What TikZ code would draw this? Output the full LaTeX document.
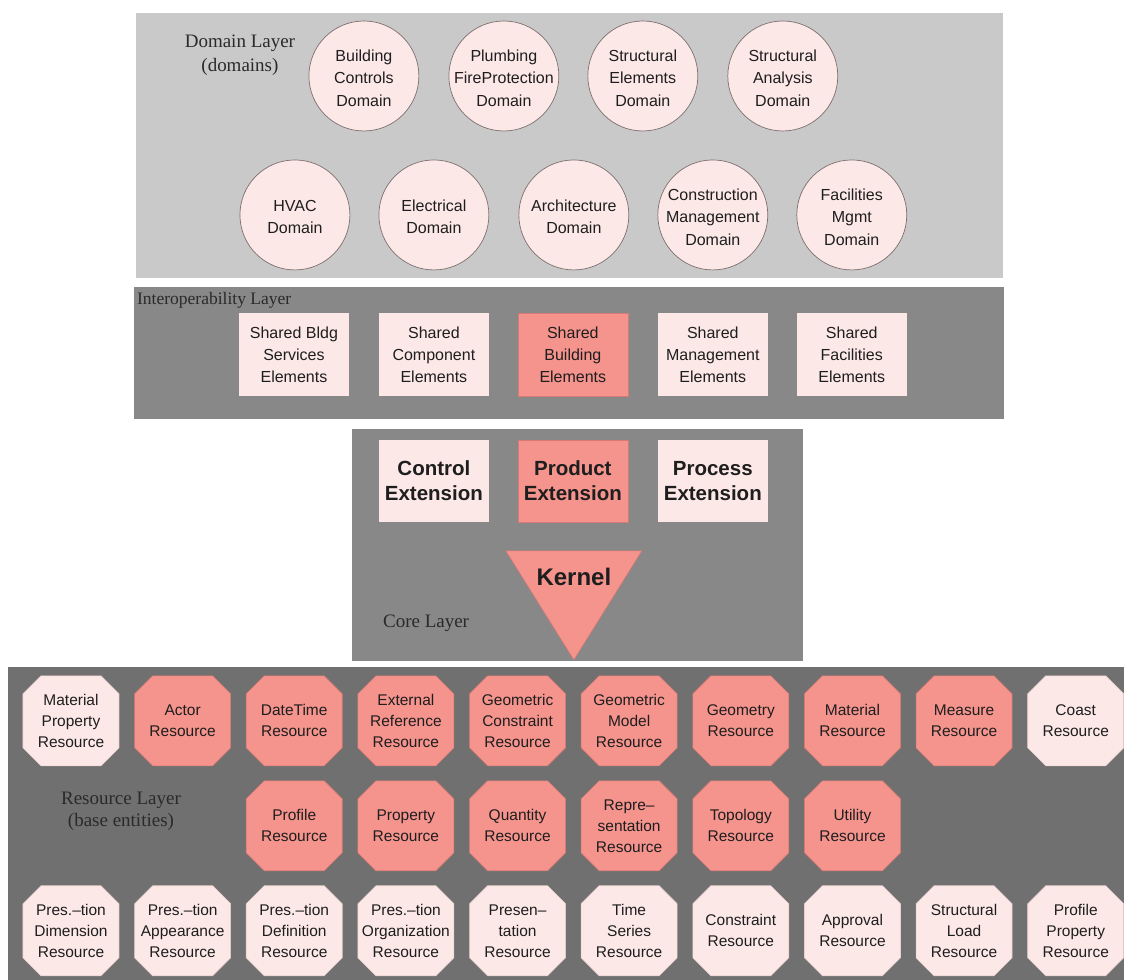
\documentclass[tikz,border=0pt]{standalone}
\usepackage{fontspec}
\setmainfont{Liberation Serif}
\setsansfont{Liberation Sans}

\definecolor{paleframe}{HTML}{C9C9C9}
\definecolor{midframe}{HTML}{888888}
\definecolor{deepframe}{HTML}{707070}
\definecolor{lightpink}{HTML}{FDE8E8}
\definecolor{salmon}{HTML}{F5938D}
\definecolor{salmonedge}{HTML}{D77A74}
\definecolor{lightedge}{HTML}{E9CFCF}
\definecolor{ringline}{HTML}{7D6E6E}
\definecolor{ink}{HTML}{1E1E1E}
\definecolor{labelink}{HTML}{2A2A2A}

% octagonal resource node: name, x, y, fill style, text
\newcommand\resnode[5]{%
  \filldraw[#4] (#2,#3) ++(-30,-45) -- ++(60,0) -- ++(18,18) -- ++(0,54)
    -- ++(-18,18) -- ++(-60,0) -- ++(-18,-18) -- ++(0,-54) -- cycle;
  \node[restext] (#1) at (#2,#3) {#5};}

% round domain node: name, x, y, text
\newcommand\domnode[4]{%
  \filldraw[domring] (#2,#3) ellipse [x radius=55, y radius=55];
  \node[nodetext] (#1) at (#2,#3+2) {#4};}

\begin{document}
\begin{tikzpicture}[x=1pt,y=-1pt,
  layerlabel/.style={font=\fontsize{19}{24}\selectfont, text=labelink, align=center, inner sep=0pt},
  nodetext/.style={font=\sffamily\fontsize{16}{22.5}\selectfont, text=ink, align=center, inner sep=0pt},
  restext/.style={font=\sffamily\fontsize{15.5}{21}\selectfont, text=ink, align=center, inner sep=0pt},
  domring/.style={fill=lightpink, draw=ringline, line width=0.7pt},
  lightres/.style={fill=lightpink, draw=lightedge, line width=0.6pt},
  darkres/.style={fill=salmon, draw=salmonedge, line width=0.6pt},
  sharedbox/.style={rectangle, minimum width=110pt, minimum height=83pt, inner sep=0pt,
    font=\sffamily\fontsize{16}{22}\selectfont, text=ink, align=center},
  extbox/.style={rectangle, minimum width=110pt, minimum height=82pt, inner sep=0pt,
    font=\sffamily\bfseries\fontsize{20.5}{25}\selectfont, text=ink, align=center},
  pale/.style={fill=lightpink},
  hot/.style={fill=salmon, draw=salmonedge, line width=0.6pt}
]
% page and layer panels
\fill[white] (0,0) rectangle (1124,980);
\fill[paleframe] (136,13) rectangle (1003,278);
\fill[midframe] (134,287) rectangle (1004,419);
\fill[midframe] (352,429) rectangle (803,661);
\fill[deepframe] (8,667) rectangle (1124,980);

% ---------------- domain layer ----------------
\node[layerlabel] (domlabel) at (240,55) {Domain Layer\\(domains)};
\domnode{bldgctl}{364}{76}{Building\\Controls\\Domain}
\domnode{plumb}{504}{76}{Plumbing\\FireProtection\\Domain}
\domnode{structel}{643}{76}{Structural\\Elements\\Domain}
\domnode{structan}{783}{76}{Structural\\Analysis\\Domain}
\domnode{hvac}{295}{215}{HVAC\\Domain}
\domnode{elec}{434}{215}{Electrical\\Domain}
\domnode{arch}{574}{215}{Architecture\\Domain}
\domnode{constr}{713}{215}{Construction\\Management\\Domain}
\domnode{facil}{852}{215}{Facilities\\Mgmt\\Domain}

% ---------------- interoperability layer ----------------
\node[layerlabel, anchor=west, font=\fontsize{17.5}{21}\selectfont] (interlabel) at (137,300) {Interoperability Layer};
\node[sharedbox, pale] (shbldg) at (294,355) {Shared Bldg\\Services\\Elements};
\node[sharedbox, pale] (shcomp) at (434,355) {Shared\\Component\\Elements};
\node[sharedbox, hot]  (shbuild) at (573,355) {Shared\\Building\\Elements};
\node[sharedbox, pale] (shmgmt) at (713,355) {Shared\\Management\\Elements};
\node[sharedbox, pale] (shfac) at (852,355) {Shared\\Facilities\\Elements};

% ---------------- core layer ----------------
\node[extbox, pale] (ctrlext) at (434,481) {Control\\Extension};
\node[extbox, hot]  (prodext) at (573,481) {Product\\Extension};
\node[extbox, pale] (procext) at (713,481) {Process\\Extension};
\filldraw[fill=salmon, draw=salmonedge, line width=0.6pt] (506,551) -- (642,551) -- (574,660) -- cycle;
\node[font=\sffamily\bfseries\fontsize{24}{28}\selectfont, text=ink, inner sep=0pt] (kernel) at (574,577) {Kernel};
\node[layerlabel, anchor=west] (corelabel) at (383,623) {Core Layer};

% ---------------- resource layer ----------------
\node[layerlabel, font=\fontsize{19}{22}\selectfont] (reslabel) at (121,812) {Resource Layer\\(base entities)};

% first row
\resnode{matprop}{71}{721}{lightres}{Material\\Property\\Resource}
\resnode{actor}{182.7}{721}{darkres}{Actor\\Resource}
\resnode{datetime}{294.3}{721}{darkres}{DateTime\\Resource}
\resnode{extref}{406}{721}{darkres}{External\\Reference\\Resource}
\resnode{geocon}{517.7}{721}{darkres}{Geometric\\Constraint\\Resource}
\resnode{geomod}{629.3}{721}{darkres}{Geometric\\Model\\Resource}
\resnode{geometry}{741}{721}{darkres}{Geometry\\Resource}
\resnode{material}{852.7}{721}{darkres}{Material\\Resource}
\resnode{measure}{964.3}{721}{darkres}{Measure\\Resource}
\resnode{coast}{1076}{721}{lightres}{Coast\\Resource}

% second row
\resnode{profile}{294.3}{826}{darkres}{Profile\\Resource}
\resnode{property}{406}{826}{darkres}{Property\\Resource}
\resnode{quantity}{517.7}{826}{darkres}{Quantity\\Resource}
\resnode{repres}{629.3}{826}{darkres}{Repre–\\sentation\\Resource}
\resnode{topology}{741}{826}{darkres}{Topology\\Resource}
\resnode{utility}{852.7}{826}{darkres}{Utility\\Resource}

% third row
\resnode{presdim}{71}{931}{lightres}{Pres.–tion\\Dimension\\Resource}
\resnode{presapp}{182.7}{931}{lightres}{Pres.–tion\\Appearance\\Resource}
\resnode{presdef}{294.3}{931}{lightres}{Pres.–tion\\Definition\\Resource}
\resnode{presorg}{406}{931}{lightres}{Pres.–tion\\Organization\\Resource}
\resnode{present}{517.7}{931}{lightres}{Presen–\\tation\\Resource}
\resnode{timeser}{629.3}{931}{lightres}{Time\\Series\\Resource}
\resnode{constraint}{741}{931}{lightres}{Constraint\\Resource}
\resnode{approval}{852.7}{931}{lightres}{Approval\\Resource}
\resnode{structload}{964.3}{931}{lightres}{Structural\\Load\\Resource}
\resnode{profprop}{1076}{931}{lightres}{Profile\\Property\\Resource}
\end{tikzpicture}
\end{document}
